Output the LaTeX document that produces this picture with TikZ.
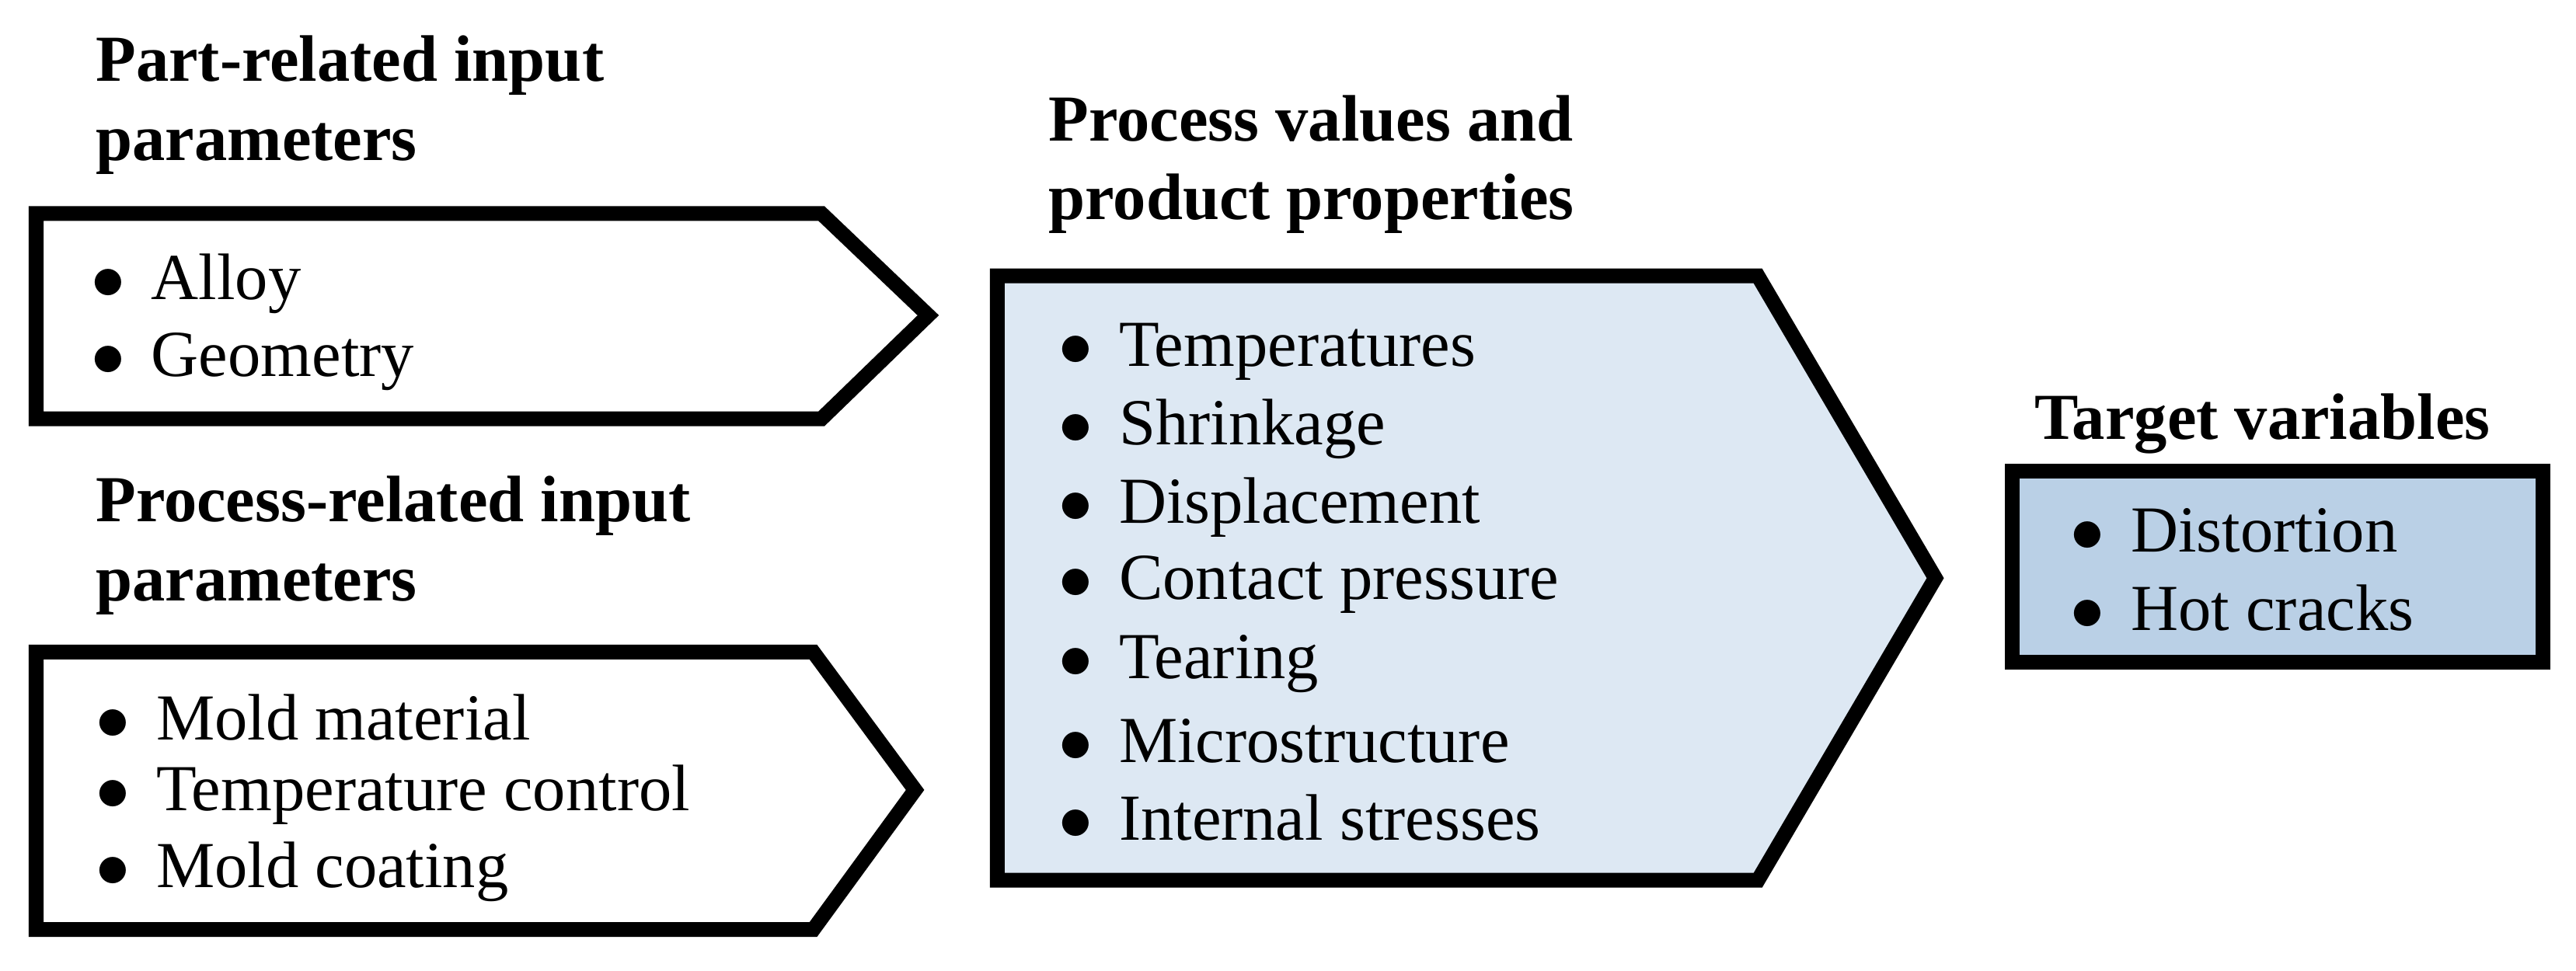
\documentclass[tikz,border=0pt]{standalone}
\usepackage{fontspec}
\setmainfont{Liberation Serif}
\usepackage{xcolor}
\definecolor{procfill}{RGB}{221,232,243}
\definecolor{targfill}{RGB}{186,208,230}
\tikzset{
  head/.style={anchor=west,inner sep=0pt,align=left,font=\fontsize{20}{24}\selectfont\bfseries},
  item/.style={anchor=west,inner sep=0pt,font=\fontsize{20}{24}\selectfont},
  frame/.style={line width=4.5pt,line join=miter}
}
\begin{document}
\begin{tikzpicture}[x=0.5pt,y=0.5pt,yscale=-1,xscale=1]
  \useasboundingbox (0,0) rectangle (1568,591);
  % part-related
  \draw[frame] (22,130) -- (500,130) -- (565,192) -- (500,255) -- (22,255) -- cycle ;
  \node[head] (parthead) at (58,64) {Part-related input\\parameters};
  \node[item] (alloy) at (55,173) {$\bullet$\hspace{8pt}Alloy};
  \node[item] (geom) at (55,220) {$\bullet$\hspace{8pt}Geometry};
  % process-related
  \draw[frame] (22,397) -- (495,397) -- (557,481) -- (495,566) -- (22,566) -- cycle ;
  \node[head] (prochead) at (58,332) {Process-related input\\parameters};
  \node[item] (mold) at (58,437) {$\bullet$\hspace{8pt}Mold material};
  \node[item] (temp) at (58,484) {$\bullet$\hspace{8pt}Temperature control};
  \node[item] (coat) at (58,531) {$\bullet$\hspace{8pt}Mold coating};
  % process values
  \draw[frame,fill=procfill] (607,168) -- (1070,168) -- (1178,352) -- (1070,536) -- (607,536) -- cycle ;
  \node[head] (valhead) at (638,100) {Process values and\\product properties};
  \node[item] (v1) at (644,214) {$\bullet$\hspace{8pt}Temperatures};
  \node[item] (v2) at (644,261) {$\bullet$\hspace{8pt}Shrinkage};
  \node[item] (v3) at (644,309) {$\bullet$\hspace{8pt}Displacement};
  \node[item] (v4) at (644,356) {$\bullet$\hspace{8pt}Contact pressure};
  \node[item] (v5) at (644,404) {$\bullet$\hspace{8pt}Tearing};
  \node[item] (v6) at (644,451) {$\bullet$\hspace{8pt}Microstructure};
  \node[item] (v7) at (644,498) {$\bullet$\hspace{8pt}Internal stresses};
  % target
  \draw[frame,fill=targfill] (1225,287) rectangle (1548,403) ;
  \node[head] (targhead) at (1238,258) {Target variables};
  \node[item] (t1) at (1260,323) {$\bullet$\hspace{8pt}Distortion};
  \node[item] (t2) at (1260,370) {$\bullet$\hspace{8pt}Hot cracks};
\end{tikzpicture}
\end{document}
